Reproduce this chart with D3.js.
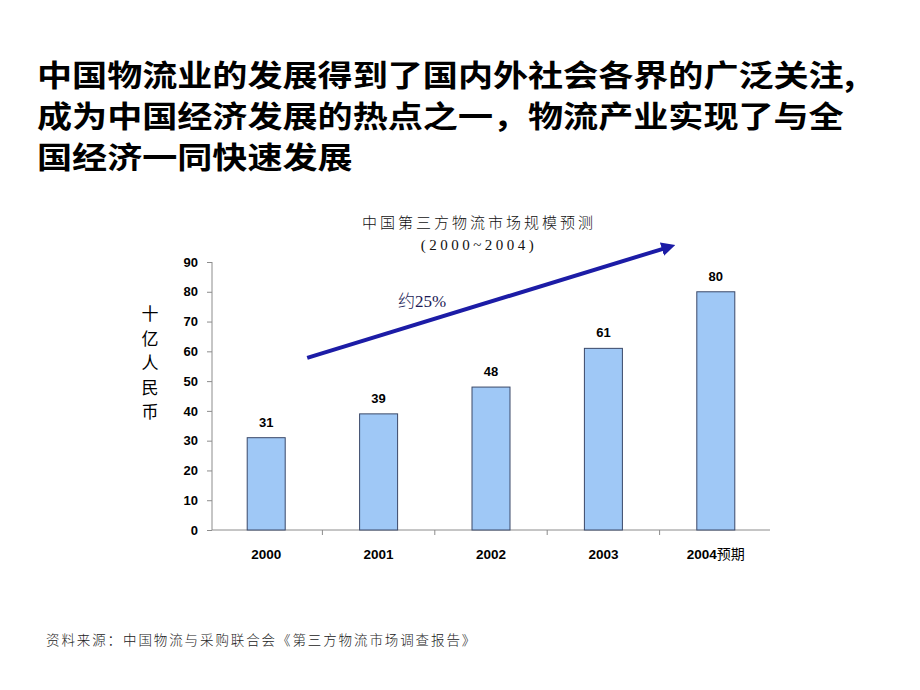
<!DOCTYPE html>
<html><head><meta charset="utf-8">
<script src="https://cdn.jsdelivr.net/npm/d3@7"></script>
<style>body{margin:0;background:#fff}</style>
</head><body>
<svg id="c" width="920" height="690"></svg>
<script>
const headingLines = ["中国物流业的发展得到了国内外社会各界的广泛关注,", "成为中国经济发展的热点之一，物流产业实现了与全", "国经济一同快速发展"];
const chartTitle = ["中国第三方物流市场规模预测", "(2000~2004)"];
const categories = ["2000", "2001", "2002", "2003", "2004"];
const categorySuffix = ["", "", "", "", "预期"];
const values = [31, 39, 48, 61, 80];
const yTicks = [0, 10, 20, 30, 40, 50, 60, 70, 80, 90];
const yLabel = ["十", "亿", "人", "民", "币"];
const growthLabel = "约25%";
const source = "资料来源：中国物流与采购联合会《第三方物流市场调查报告》";

const svg = d3.select("#c");
const cjk = "'Noto Sans CJK SC', sans-serif";
const latin = "'Liberation Sans', Arial, sans-serif";

// heading
headingLines.forEach((t, i) => {
  svg.append("text").attr("transform", `translate(37,${86 + i * 41}) scale(1.17,1)`)
    .attr("font-family", cjk).attr("font-weight", 700).attr("font-size", 30)
    .attr("fill", "#000").text(t);
});

const x = d3.scaleBand().domain(categories).range([210, 772]);
const y = d3.scaleLinear().domain([0, 90]).range([530, 262]);
const axisColor = "#8c8c8c";

// y axis
const ya = svg.append("g").attr("transform", "translate(212,0)")
  .call(d3.axisLeft(y).tickValues(yTicks).tickSize(5).tickPadding(9));
ya.select(".domain").attr("stroke", axisColor).attr("d", `M0,${y(90)}V${y(0)}`);
ya.selectAll(".tick line").attr("stroke", axisColor);
ya.selectAll(".tick text").attr("font-family", latin)
  .attr("font-weight", 700).attr("font-size", 13).attr("fill", "#000");

// x axis
const xa = svg.append("g").attr("transform", "translate(0,530)")
  .call(d3.axisBottom(x).tickSize(0).tickPadding(19));
xa.select(".domain").attr("stroke", axisColor).attr("d", `M212,0H770`);
xa.selectAll(".tick text").attr("font-family", latin)
  .attr("font-weight", 700).attr("font-size", 13.5).attr("fill", "#000")
  .each(function(d, i) {
    if (categorySuffix[i]) {
      d3.select(this).append("tspan").attr("font-family", cjk).attr("font-weight", 400)
        .attr("font-size", 14).text(categorySuffix[i]);
    }
  });
// boundary ticks
svg.append("g").selectAll("line").data(categories.slice(1)).join("line")
  .attr("x1", d => x(d)).attr("x2", d => x(d)).attr("y1", 530).attr("y2", 535)
  .attr("stroke", axisColor);

// bars
const bw = 38;
svg.append("g").selectAll("rect").data(values).join("rect")
  .attr("x", (d, i) => x(categories[i]) + x.bandwidth() / 2 - bw / 2)
  .attr("y", d => y(d)).attr("width", bw).attr("height", d => y(0) - y(d))
  .attr("fill", "#9fc8f6").attr("stroke", "#3a4868").attr("stroke-width", 1);
svg.append("g").selectAll("text").data(values).join("text")
  .attr("x", (d, i) => x(categories[i]) + x.bandwidth() / 2)
  .attr("y", d => y(d) - 11).attr("text-anchor", "middle")
  .attr("font-family", latin).attr("font-weight", 700)
  .attr("font-size", 13).text(d => d);

// y label
svg.append("g").selectAll("text").data(yLabel).join("text")
  .attr("x", 150).attr("y", (d, i) => 320 + i * 24.5).attr("text-anchor", "middle")
  .attr("font-family", cjk).attr("font-size", 17).attr("fill", "#000").text(d => d);

// chart title
svg.append("text").attr("x", 479).attr("y", 228).attr("text-anchor", "middle")
  .attr("font-family", cjk).attr("font-weight", 300).attr("font-size", 15)
  .attr("letter-spacing", 3).attr("fill", "#111").text(chartTitle[0]);
svg.append("text").attr("x", 479).attr("y", 250).attr("text-anchor", "middle")
  .attr("font-family", "'Liberation Serif', serif").attr("font-size", 15)
  .attr("letter-spacing", 3.5).attr("fill", "#111").text(chartTitle[1]);

// arrow
const blue = "#1c1ca6";
svg.append("defs").append("marker").attr("id", "ah").attr("viewBox", "0 0 10 10")
  .attr("refX", 2).attr("refY", 5).attr("markerWidth", 3.5).attr("markerHeight", 3.5)
  .attr("orient", "auto").attr("markerUnits", "strokeWidth")
  .append("path").attr("d", "M0,0L10,5L0,10Z").attr("fill", blue);
const ax0 = x(categories[0]) + x.bandwidth() / 2 + 41, ay0 = y(57.8);
const ax1 = x(categories[4]) + 5, ay1 = y(94.6);
svg.append("line").attr("x1", ax0).attr("y1", ay0).attr("x2", ax1).attr("y2", ay1)
  .attr("stroke", blue).attr("stroke-width", 4).attr("marker-end", "url(#ah)");
svg.append("text").attr("x", 398).attr("y", 307)
  .attr("font-size", 17).attr("fill", "#1a1a55")
  .call(t => {
    t.append("tspan").attr("font-family", cjk).attr("font-weight", 300).text(growthLabel.slice(0, 1));
    t.append("tspan").attr("font-family", "'Liberation Serif', serif").text(growthLabel.slice(1));
  });

// source
svg.append("text").attr("x", 46).attr("y", 645)
  .attr("font-family", cjk).attr("font-weight", 300).attr("font-size", 13.5)
  .attr("letter-spacing", 1.9).attr("fill", "#222").text(source);
</script>
</body></html>
